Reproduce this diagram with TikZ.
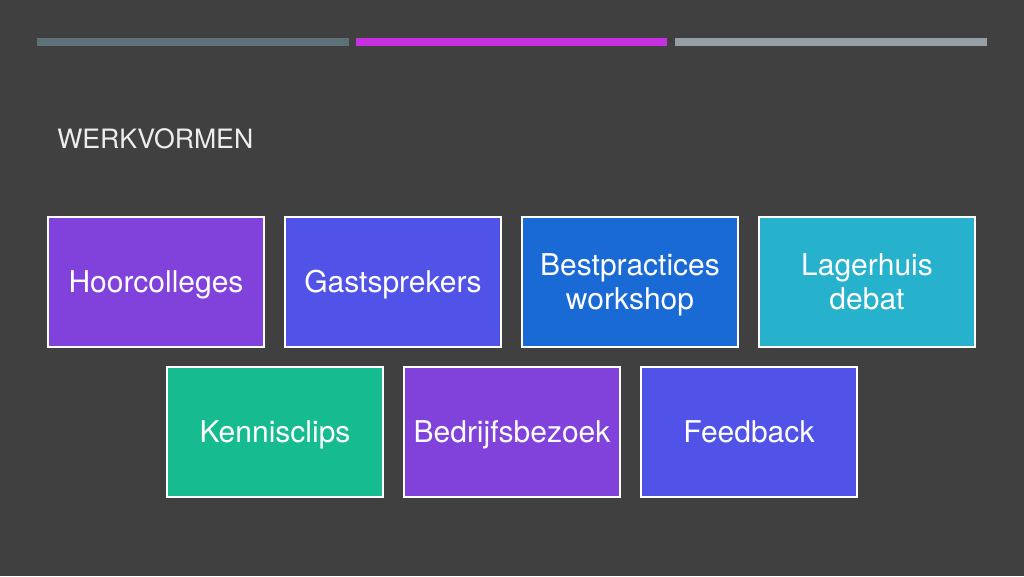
\documentclass[tikz,border=0pt]{standalone}
\usepackage{fontspec}
\setmainfont{TeX Gyre Heros}
\usepackage{xcolor}
\usepackage{tikz}

\definecolor{bg}{HTML}{404040}
\definecolor{barone}{HTML}{5E7178}
\definecolor{bartwo}{HTML}{C730E0}
\definecolor{barthree}{HTML}{959FA8}
\definecolor{paars}{HTML}{8042DA}
\definecolor{indigo}{HTML}{5052E8}
\definecolor{blauw}{HTML}{1A6AD5}
\definecolor{cyaan}{HTML}{26B2CC}
\definecolor{groen}{HTML}{16BB8F}

\begin{document}
\begin{tikzpicture}[x=0.75pt, y=-0.75pt,
	box/.style={draw=white, line width=1pt, fill=#1, minimum width=162pt, minimum height=97.5pt,
		align=center, text=white, inner sep=0pt, text height=16.2pt, text depth=0pt,
		font=\fontsize{22.5}{25.5}\selectfont},
	boxtwee/.style={box=#1, text height=41.7pt}]
% everything in pixels of the slide, y going down

\fill[bg] (0,0) rectangle (1024,576);
\useasboundingbox (0,0) rectangle (1024,576);

\fill[barone]   (37,38)  rectangle (349,46);
\fill[bartwo]   (356,38) rectangle (667,46);
\fill[barthree] (675,38) rectangle (987,46);

\node[anchor=base west, inner sep=0pt, text=white!93!black, font=\fontsize{20}{24}\selectfont] (titel) at (57,148) {WERKVORMEN};

\foreach \nm/\st/\col/\x/\y/\txt in {
	hoor/box/paars/156/282/Hoorcolleges,
	gast/box/indigo/393/282/Gastsprekers,
	best/boxtwee/blauw/630/282/{Bestpractices\\workshop},
	lager/boxtwee/cyaan/867/282/{Lagerhuis\\debat},
	clips/box/groen/275/432/Kennisclips,
	bezoek/box/paars/512/432/Bedrijfsbezoek,
	feed/box/indigo/749/432/Feedback}{
	\node[\st=\col] (\nm) at (\x,\y) {\txt};
}

\end{tikzpicture}
\end{document}
